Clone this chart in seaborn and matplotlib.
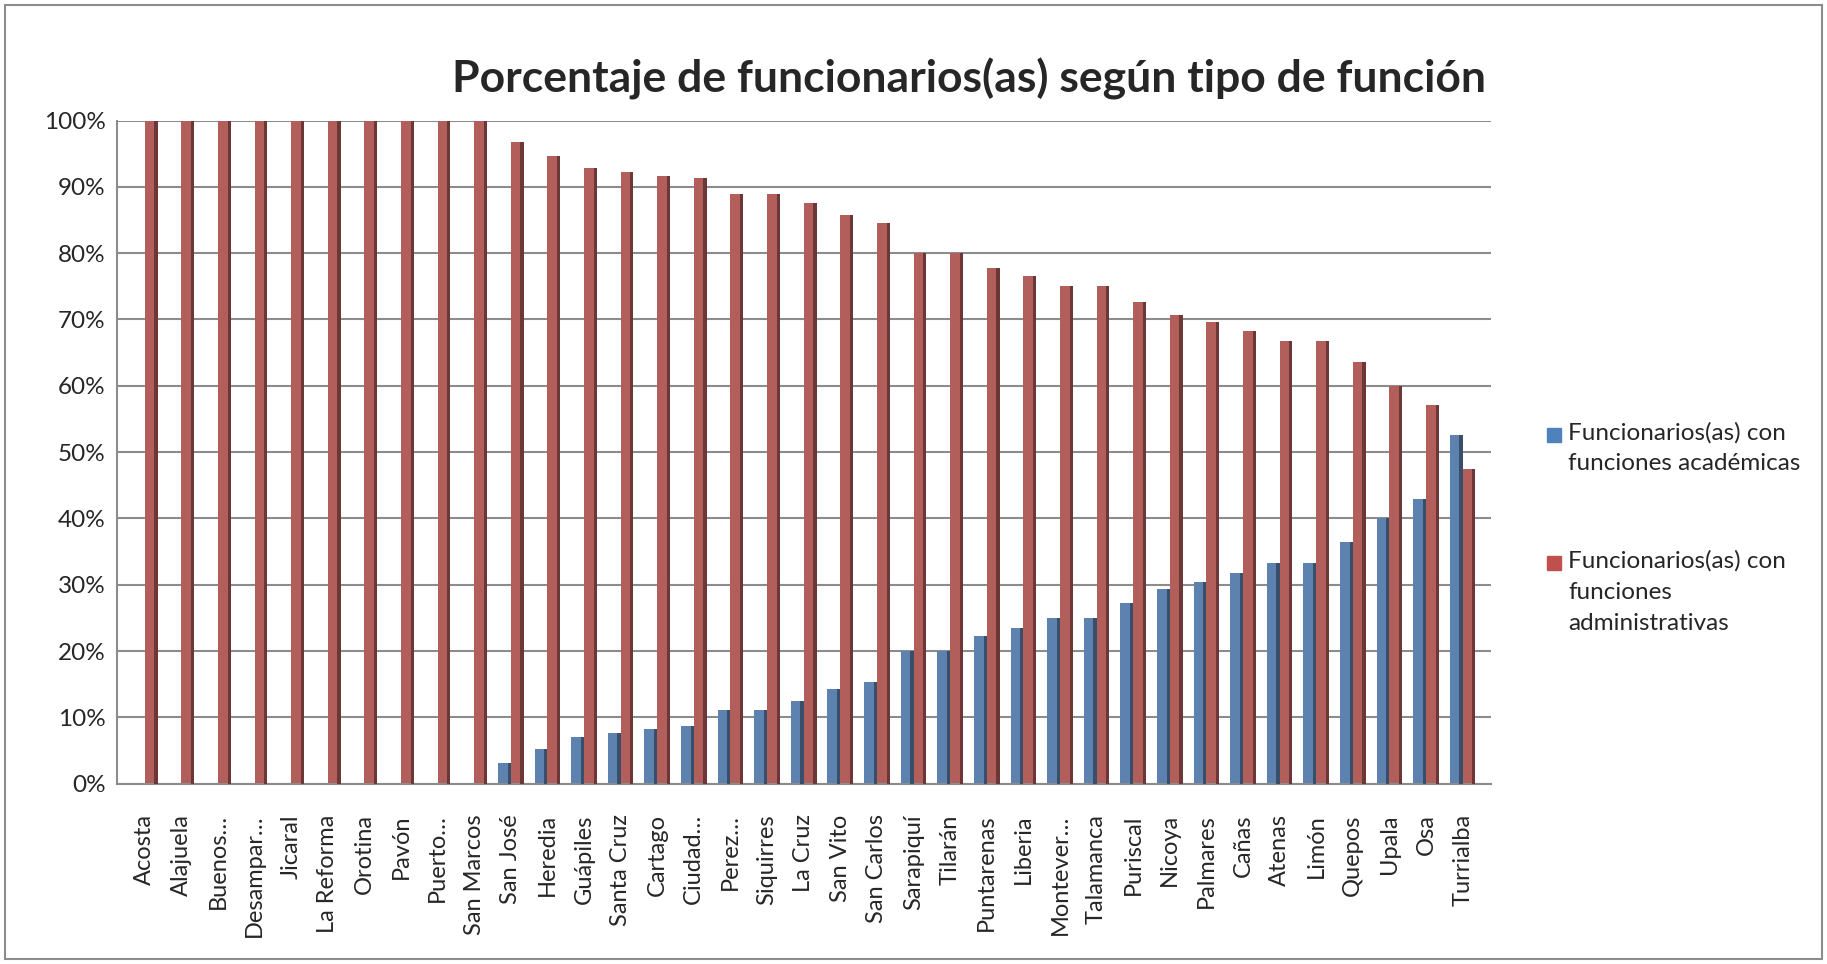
import pandas as pd
import matplotlib.pyplot as plt
import seaborn as sns
from matplotlib.patches import Rectangle
from matplotlib.ticker import PercentFormatter

# data (percent)
sedes = ['Acosta', 'Alajuela', 'Buenos…', 'Desampar…', 'Jicaral', 'La Reforma',
         'Orotina', 'Pavón', 'Puerto…', 'San Marcos', 'San José', 'Heredia',
         'Guápiles', 'Santa Cruz', 'Cartago', 'Ciudad…', 'Perez…', 'Siquirres',
         'La Cruz', 'San Vito', 'San Carlos', 'Sarapiquí', 'Tilarán', 'Puntarenas',
         'Liberia', 'Montever…', 'Talamanca', 'Puriscal', 'Nicoya', 'Palmares',
         'Cañas', 'Atenas', 'Limón', 'Quepos', 'Upala', 'Osa', 'Turrialba']
academicas = [0, 0, 0, 0, 0, 0, 0, 0, 0, 0, 3.2, 5.3, 7.1, 7.7, 8.3, 8.7, 11.1,
              11.1, 12.5, 14.3, 15.4, 20.0, 20.0, 22.2, 23.5, 25.0, 25.0, 27.3,
              29.4, 30.4, 31.8, 33.3, 33.3, 36.4, 40.0, 42.9, 52.6]
administrativas = [100, 100, 100, 100, 100, 100, 100, 100, 100, 100, 96.8, 94.7,
                   92.9, 92.3, 91.7, 91.3, 88.9, 88.9, 87.5, 85.7, 84.6, 80.0, 80.0,
                   77.8, 76.5, 75.0, 75.0, 72.7, 70.6, 69.6, 68.2, 66.7, 66.7, 63.6,
                   60.0, 57.1, 47.4]
serie_acad = 'Funcionarios(as) con funciones académicas'
serie_adm = 'Funcionarios(as) con funciones administrativas'

df = pd.DataFrame({'Sede': sedes * 2,
                   'Serie': [serie_acad] * len(sedes) + [serie_adm] * len(sedes),
                   'Porcentaje': academicas + administrativas})

sns.set_theme(style='white')
plt.rcParams['font.family'] = ['Lato', 'DejaVu Sans']

fig = plt.figure(figsize=(18.27, 9.64), dpi=100)
ax = fig.add_axes([0.064, 0.187, 0.752, 0.688])

colores = {serie_acad: '#4F81BD', serie_adm: '#C0504D'}
sns.barplot(data=df, x='Sede', y='Porcentaje', hue='Serie', palette=colores,
            width=0.7, edgecolor='none', ax=ax, legend=False)

# darker right side to mimic the 3D look
for bar in ax.patches:
    x, w, h = bar.get_x(), bar.get_width(), bar.get_height()
    if h <= 0:
        continue
    c = bar.get_facecolor()
    dark = (c[0] * 0.6, c[1] * 0.6, c[2] * 0.6, 1)
    ax.add_patch(Rectangle((x + w * 0.75, 0), w * 0.25, h, color=dark, lw=0, zorder=3))

ax.set_ylim(0, 100)
ax.set_xlim(-0.76, len(sedes) - 0.23)
ax.set_yticks(range(0, 101, 10))
ax.yaxis.set_major_formatter(PercentFormatter(decimals=0))
ax.grid(axis='y', color='#8c8c8c', lw=1.5)
ax.set_axisbelow(True)
for s in ['top', 'right']:
    ax.spines[s].set_visible(False)
ax.spines['left'].set_color('#8c8c8c')
ax.spines['bottom'].set_color('#8c8c8c')
ax.spines['left'].set_linewidth(1.5)
ax.spines['bottom'].set_linewidth(1.5)
ax.tick_params(axis='y', labelsize=17.5, length=0, pad=8)
ax.tick_params(axis='x', labelsize=17, length=0, pad=22, labelrotation=90)
ax.set_xlabel('')
ax.set_ylabel('')

ax.set_title('Porcentaje de funcionarios(as) según tipo de función',
             fontsize=32, fontweight='bold', pad=20, x=0.62)

# legend: square aligned with the first line of each wrapped label
leyenda = [('#4F81BD', 'Funcionarios(as) con\nfunciones académicas', 0.549),
           ('#C0504D', 'Funcionarios(as) con\nfunciones\nadministrativas', 0.416)]
for color, texto, y in leyenda:
    fig.patches.append(Rectangle((0.8465, y - 0.0075), 0.0078, 0.0148,
                                 transform=fig.transFigure, color=color))
    fig.text(0.8585, y + 0.0135, texto, fontsize=17.5, va='top', ha='left',
             linespacing=1.6)

fig.patches.append(Rectangle((0.003, 0.005), 0.994, 0.99, transform=fig.transFigure,
                             fill=False, edgecolor='#8c8c8c', lw=1.5))

fig.savefig('out.png', dpi=100)
